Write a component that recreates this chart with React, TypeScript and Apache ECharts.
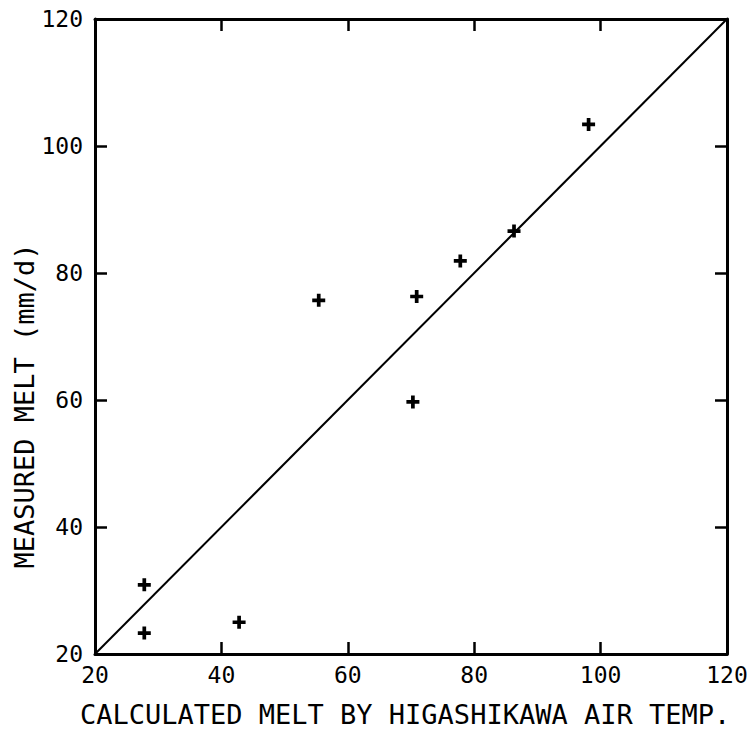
import React, { useEffect, useRef } from "react";
import * as echarts from "echarts";

const xTicks = [20, 40, 60, 80, 100, 120];
const calculatedMelt = [27.8, 27.8, 42.8, 55.4, 70.9, 70.3, 77.8, 86.3, 98.1];
const measuredMelt = [30.9, 23.3, 25.0, 75.7, 76.3, 59.7, 81.9, 86.6, 103.4];
const oneToOneLine = [
  [20, 20],
  [120, 120],
];
const xTitle = "CALCULATED MELT BY HIGASHIKAWA AIR TEMP.";
const yTitle = "MEASURED MELT (mm/d)";

const FONT = "'DejaVu Sans Mono', 'Liberation Mono', monospace";

export default function App() {
  const ref = useRef<HTMLDivElement>(null);
  useEffect(() => {
    if (!ref.current) return;
    const chart = echarts.init(ref.current, null, { renderer: "svg" });
    const min = xTicks[0];
    const max = xTicks[xTicks.length - 1];
    const interval = xTicks[1] - xTicks[0];
    const axisCommon = {
      type: "value" as const,
      min,
      max,
      interval,
      splitLine: { show: false },
      axisLine: { show: true, lineStyle: { color: "#000", width: 3 } },
      axisTick: { show: true, inside: true, length: 12, lineStyle: { color: "#000", width: 2.5 } },
    };
    chart.setOption({
      animation: false,
      backgroundColor: "#fff",
      grid: { left: 95, right: 28, top: 19, bottom: 75, outerBoundsMode: "none", containLabel: false },
      xAxis: [
        {
          ...axisCommon,
          position: "bottom",
          axisLabel: { fontFamily: FONT, fontSize: 23, color: "#000", margin: 9 },
        },
        { ...axisCommon, position: "top", axisLabel: { show: false } },
      ],
      yAxis: [
        {
          ...axisCommon,
          position: "left",
          axisLabel: { fontFamily: FONT, fontSize: 23, color: "#000", margin: 12 },
        },
        { ...axisCommon, position: "right", axisLabel: { show: false } },
      ],
      graphic: [
        {
          type: "text",
          left: 80,
          bottom: 1,
          style: {
            text: xTitle,
            fontFamily: FONT,
            fontSize: 27,
            fill: "#000",
          },
        },
        {
          type: "text",
          x: 24,
          y: 406,
          rotation: Math.PI / 2,
          style: {
            text: yTitle,
            fontFamily: FONT,
            fontSize: 27,
            fill: "#000",
            align: "center",
            verticalAlign: "middle",
          },
        },
      ],
      series: [
        {
          type: "line",
          data: oneToOneLine,
          symbol: "none",
          lineStyle: { color: "#000", width: 2 },
          silent: true,
        },
        {
          type: "scatter",
          data: calculatedMelt.map((x, i) => [x, measuredMelt[i]]),
          symbol: "path://M5,0H9V5H14V9H9V14H5V9H0V5H5Z",
          symbolSize: 13,
          itemStyle: { color: "#000", opacity: 1 },
        },
      ],
    });
    return () => chart.dispose();
  }, []);
  return (
    <div
      ref={ref}
      style={{ position: "absolute", left: 0, top: 0, width: 755, height: 729 }}
    />
  );
}
